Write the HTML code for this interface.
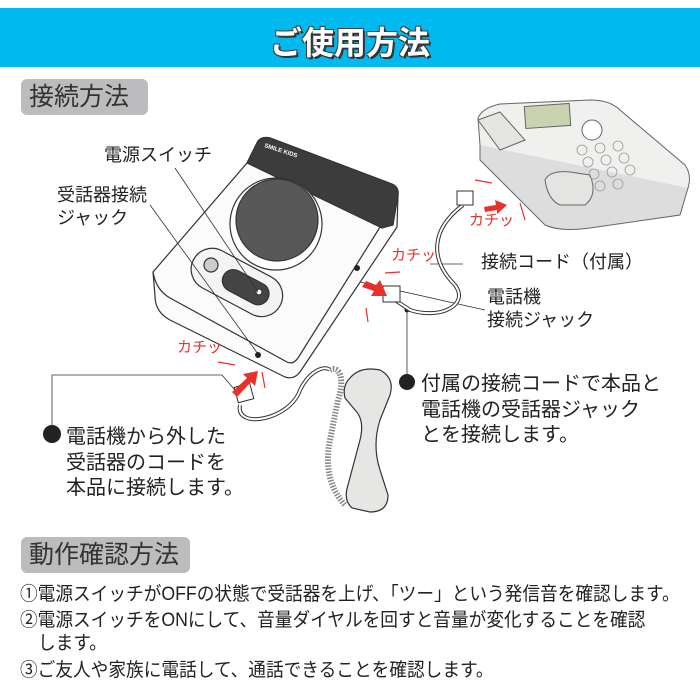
<!DOCTYPE html>
<html><head><meta charset="utf-8"><style>
body{margin:0;width:700px;height:700px;background:#fff;overflow:hidden;position:relative;font-family:"Liberation Sans","Noto Sans CJK JP",sans-serif;color:#222}
.t{position:absolute;white-space:nowrap;line-height:1}
.hdr{position:absolute;left:0;top:8px;width:700px;height:59px;background:#00b9ee}
.ttl{position:absolute;left:0;width:700px;top:18px;text-align:center;font-size:32px;font-weight:bold;color:#fff;text-shadow:2px 2px 0 #333,-1px -1px 0 #444,1px -1px 0 #444,-1px 1px 0 #444}
.lab{position:absolute;background:#bcbcbe;border-radius:6px;font-size:25px;color:#333;padding:0 8px;line-height:36px}
.b{font-size:19px;color:#222}
.red{color:#e8312a;font-size:15px}
</style></head><body>
<div class="hdr"></div><div class="ttl">ご使用方法</div>
<div class="lab" style="left:21px;top:79px;width:111px;">接続方法</div>
<div class="lab" style="left:21px;top:537px;width:153px;">動作確認方法</div>

<svg width="700" height="700" style="position:absolute;left:0;top:0">
<g stroke="#333" stroke-width="1.2" fill="#fff">
<!-- device body -->
<path d="M247,163 L258,141 Q262,136 270,138 L392,184 Q399,187 398,195 L397,227 L300,372 Q294,380 285,377 L170,320 Q155,312 155,296 L153,272 Z" fill="#fbfbfb"/>
<path d="M153,272 Q156,290 170,298 L287,362 Q293,365 298,358 L397,200" fill="none"/>
<path d="M258,141 Q262,136 270,138 L392,184 Q399,187 398,195 L393,225 L382,228 L247,163 Z" fill="#3c3c3c"/>
<circle cx="276" cy="224" r="46" fill="#fff"/>
<circle cx="277" cy="220" r="41" fill="#585858"/>
<g transform="rotate(28 236 282)"><rect x="188" y="261" width="98" height="42" rx="21" fill="#f4f4f4"/><rect x="222" y="271" width="50" height="22" rx="11" fill="#444"/></g>
<circle cx="211" cy="265" r="7" fill="#ccc"/>
<circle cx="259" cy="292" r="3" fill="#fff"/>
</g>
<text x="264" y="147" font-size="6" fill="#fff" transform="rotate(18 264 147)" font-weight="bold">SMILE KIDS</text>
<!-- leader lines -->
<g stroke="#333" stroke-width="0.8" fill="none">
<line x1="175" y1="168" x2="258" y2="292"/>
<line x1="150" y1="205" x2="258" y2="354"/>
<polyline points="52,432 52,375 222,375 240,396"/>
<polyline points="407,380 407,312"/>
<line x1="463" y1="264" x2="430" y2="264"/>
<line x1="485" y1="310" x2="360" y2="282"/>
</g>
<circle cx="52" cy="434" r="9" fill="#222"/>
<circle cx="407" cy="382" r="8" fill="#222"/>
<circle cx="258" cy="355" r="3" fill="#222"/>
<circle cx="357" cy="268" r="3" fill="#222"/>
<circle cx="407" cy="310" r="2.5" fill="#222"/>
<circle cx="241" cy="398" r="2.5" fill="#222"/>
<!-- cords -->
<g fill="none" stroke="#333" stroke-width="4"><path d="M463,205 C430,230 430,260 455,285 C470,305 440,320 410,310 L395,300"/><path d="M240,405 C235,430 290,420 300,390 C310,370 325,365 330,370"/></g>
<g fill="none" stroke="#fff" stroke-width="2"><path d="M463,205 C430,230 430,260 455,285 C470,305 440,320 410,310 L395,300"/><path d="M240,405 C235,430 290,420 300,390 C310,370 325,365 330,370"/></g>
<path d="M330,370 C340,365 345,380 338,400 L330,440 Q322,480 345,505" fill="none" stroke="#888" stroke-width="6" stroke-dasharray="1.5 1.5"/>
<g stroke="#333" stroke-width="1" fill="#fff">
<rect x="383" y="286" width="17" height="16"/><rect x="457" y="191" width="16" height="14"/><rect x="236" y="385" width="16" height="16" transform="rotate(-15 244 393)"/>
</g>
<!-- handset -->
<path d="M350,378 Q360,366 380,370 Q395,378 390,395 L380,420 Q372,445 380,470 L388,495 Q388,512 370,512 L352,508 Q343,500 348,485 L360,440 Q365,420 355,410 L345,398 Q342,386 350,378 Z" fill="#e6e6e4" stroke="#333" stroke-width="1.2"/>
<!-- desk phone -->
<g stroke="#666" stroke-width="1" fill="#f0f0ee">
<path d="M480,145 L478,118 Q482,108 500,104 L590,100 Q610,100 620,110 L685,165 Q692,175 688,188 L680,205 Q672,215 640,215 L580,220 Q555,220 545,205 L490,165 Z"/>
<path d="M480,145 L480,160 L545,225 Q560,232 590,228 L680,215 L688,188" fill="#ddd"/>
<rect x="525" y="105" width="45" height="22" fill="#c9d3b0" transform="rotate(-4 547 116)"/>
<circle cx="592" cy="130" r="10" fill="#fff"/>
<path d="M545,180 Q550,170 570,172 L590,175 Q598,195 585,205 L560,205 Q548,200 545,180Z" fill="#e4e4e2"/>
<path d="M478,120 L500,112 L525,140 L500,150Z" fill="#e4e4e2"/>
</g>
<g fill="none" stroke="#999" stroke-width="0.8">
<circle cx="582" cy="150" r="5"/><circle cx="600" cy="148" r="5"/><circle cx="618" cy="146" r="5"/>
<circle cx="588" cy="162" r="5"/><circle cx="606" cy="160" r="5"/><circle cx="624" cy="158" r="5"/>
<circle cx="594" cy="174" r="5"/><circle cx="612" cy="172" r="5"/><circle cx="630" cy="170" r="5"/>
<circle cx="600" cy="186" r="5"/><circle cx="618" cy="184" r="5"/>
</g>
<!-- red arrows and ticks -->
<g fill="#e8312a"><path d="M366,281 L376,285 L380,280 L387,296 L371,296 L374,291 L362,287Z"/><path d="M232,392 L247,378 L243,374 L258,371 L255,386 L251,382 L237,397Z"/><path d="M484,207 L496,205 L495,200 L507,205 L497,214 L497,210 L485,212Z"/></g>
<g stroke="#e8312a" stroke-width="1.2"><line x1="218" y1="362" x2="235" y2="365"/><line x1="262" y1="372" x2="265" y2="388"/><line x1="385" y1="273" x2="400" y2="272"/><line x1="366" y1="308" x2="368" y2="322"/><line x1="475" y1="180" x2="492" y2="183"/><line x1="520" y1="203" x2="525" y2="220"/></g>
</svg>

<div class="t red" style="left:177px;top:340px;">カチッ</div>
<div class="t red" style="left:391px;top:248px;">カチッ</div>
<div class="t red" style="left:469px;top:213px;">カチッ</div>

<div class="t" style="left:104px;top:146px;font-size:18px;">電源スイッチ</div>
<div class="t" style="left:57px;top:184px;font-size:18px;line-height:23px;">受話器接続<br>ジャック</div>
<div class="t" style="left:481px;top:253px;font-size:18px;">接続コード（付属）</div>
<div class="t" style="left:487px;top:286px;font-size:18px;line-height:23px;">電話機<br>接続ジャック</div>
<div class="t" style="left:421px;top:372px;font-size:20px;line-height:25.5px;">付属の接続コードで本品と<br>電話機の受話器ジャック<br>とを接続します。</div>
<div class="t" style="left:66px;top:425px;font-size:20px;line-height:25.5px;">電話機から外した<br>受話器のコードを<br>本品に接続します。</div>

<div class="t b" style="left:20px;top:585px;transform:scaleX(0.93);transform-origin:0 0;">①電源スイッチがOFFの状態で受話器を上げ、「ツー」という発信音を確認します。</div>
<div class="t b" style="left:20px;top:611px;transform:scaleX(0.93);transform-origin:0 0;">②電源スイッチをONにして、音量ダイヤルを回すと音量が変化することを確認</div>
<div class="t b" style="left:38px;top:634px;transform:scaleX(0.93);transform-origin:0 0;">します。</div>
<div class="t b" style="left:20px;top:661px;transform:scaleX(0.93);transform-origin:0 0;">③ご友人や家族に電話して、通話できることを確認します。</div>
</body></html>
